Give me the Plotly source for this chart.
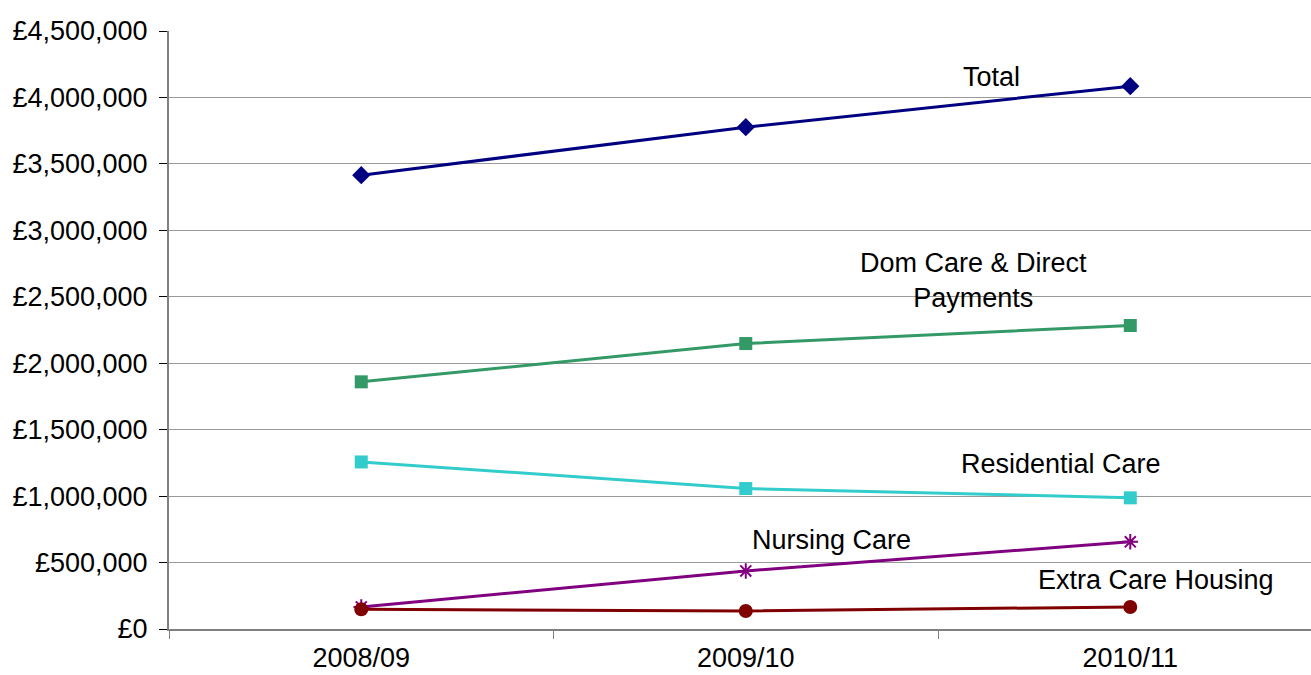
import plotly.graph_objects as go

years = ["2008/09", "2009/10", "2010/11"]
total = [3415000, 3776000, 4085000]
dom_care = [1860000, 2148000, 2284000]
residential = [1257000, 1057000, 987000]
nursing = [166000, 437000, 656000]
extra_care = [148000, 136000, 166000]

series = [
    ("Total", total, "#000080", "diamond", 14),
    ("Dom Care & Direct Payments", dom_care, "#339966", "square", 13),
    ("Residential Care", residential, "#33CCCC", "square", 13),
    ("Nursing Care", nursing, "#800080", "asterisk-open", 13),
    ("Extra Care Housing", extra_care, "#800000", "circle", 14),
]

fig = go.Figure()
for name, vals, color, sym, size in series:
    fig.add_trace(go.Scatter(
        x=years, y=vals, mode="lines+markers", name=name,
        line=dict(color=color, width=3),
        marker=dict(symbol=sym, size=size, color=color,
                    line=dict(color=color, width=2 if sym == "asterisk-open" else 0)),
        showlegend=False, cliponaxis=False,
    ))

labels = [
    ("Total", 1.638, 4153000),
    ("Dom Care & Direct<br>Payments", 1.591, 2623000),
    ("Residential Care", 1.820, 1244000),
    ("Nursing Care", 1.224, 671000),
    ("Extra Care Housing", 2.067, 369000),
]
for text, x, y in labels:
    fig.add_annotation(x=x, y=y, xref="x", yref="y", text=text, showarrow=False,
                       font=dict(family="Liberation Sans, Arial", size=27, color="#000000"),
                       xanchor="center", yanchor="middle")

fig.update_layout(
    width=1311, height=675,
    margin=dict(l=169, r=0, t=31, b=46),
    paper_bgcolor="white", plot_bgcolor="white",
    font=dict(family="Liberation Sans, Arial", size=27, color="#000000"),
)
fig.update_xaxes(
    type="category", range=[-0.5, 2.47], tickson="boundaries",
    ticks="outside", ticklen=8, tickcolor="#808080", tickwidth=1,
    showgrid=False, showline=True, linecolor="#808080", linewidth=2,
    tickfont=dict(size=27), ticklabelstandoff=4,
)
fig.update_yaxes(
    range=[0, 4500000], dtick=500000, tickprefix="£", tickformat=",d",
    ticks="outside", ticklen=8, tickcolor="#000000", tickwidth=1,
    showgrid=True, gridcolor="#999999", gridwidth=1,
    showline=True, linecolor="#808080", linewidth=2,
    zeroline=False, tickfont=dict(size=27), ticklabelstandoff=6,
)

fig.write_html("out.html")
